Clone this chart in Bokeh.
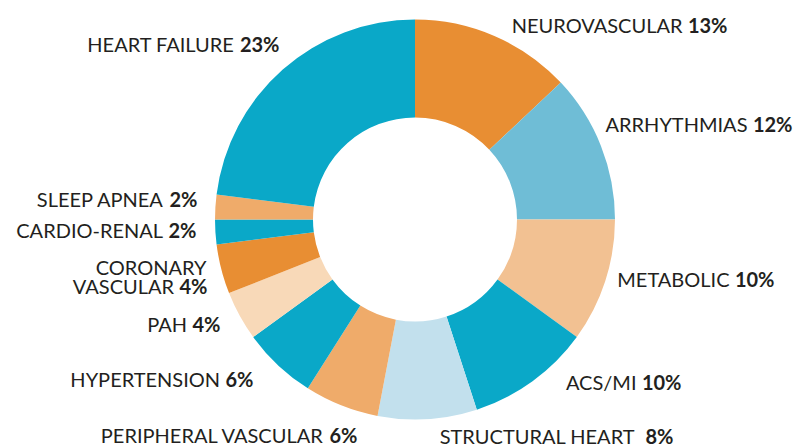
import math
from bokeh.plotting import figure
from bokeh.models import Range1d, ColumnDataSource
from bokeh.core.properties import value
from bokeh.embed import file_html
from bokeh.resources import INLINE

# ---- data (clockwise from 12 o'clock) ----
categories = ["NEUROVASCULAR", "ARRHYTHMIAS", "METABOLIC", "ACS/MI", "STRUCTURAL HEART",
              "PERIPHERAL VASCULAR", "HYPERTENSION", "PAH", "CORONARY\nVASCULAR",
              "CARDIO-RENAL", "SLEEP APNEA", "HEART FAILURE"]
shares = [13, 12, 10, 10, 8, 6, 6, 4, 4, 2, 2, 23]
pct_labels = ["13%", "12%", "10%", "10%", "8%", "6%", "6%", "4%", "4%", "2%", "2%", "23%"]

# ---- styles / layout ----
colors = ["#e88e33", "#6fbdd6", "#f2c192", "#0aa8c8", "#c2e0ed", "#efab6a",
          "#0aa8c8", "#f8d9b8", "#e88e33", "#0aa8c8", "#efab6a", "#0aa8c8"]
# label anchors in page pixels: (right edge of label, baseline of last line)
label_anchor = [(727, 32), (792, 131), (774, 286), (681, 389),
                (673, 443), (357, 442), (253, 386), (220, 331),
                (207, 293), (196, 237), (197, 206), (279, 51)]
label_gap = [5, 5, 5, 5, 10, 5, 5, 5, 5, 5, 5, 5]
W, H = 810, 448
CX, CY = 414.5, 219.0
R_OUT, R_IN = 200, 102
FONT = "Lato"
FSPX = 20
FS = "%dpx" % FSPX
TXT = "#231f20"
BASE_SHIFT = 8

def Y(yimg):
    return H - yimg

total = float(sum(shares))
starts, ends = [], []
cum = 0.0
for s in shares:
    c0 = cum / total
    cum += s
    c1 = cum / total
    starts.append(math.pi / 2 - 2 * math.pi * c1)
    ends.append(math.pi / 2 - 2 * math.pi * c0)

src = ColumnDataSource(dict(x=[CX] * len(shares), y=[Y(CY)] * len(shares),
                            start=starts, end=ends, color=colors))

p = figure(width=W, height=H, output_backend="svg", toolbar_location=None,
           x_range=Range1d(0, W), y_range=Range1d(0, H),
           min_border=0, outline_line_color=None)
p.axis.visible = False
p.grid.visible = False
p.background_fill_color = "white"
p.border_fill_color = "white"

p.annular_wedge(x="x", y="y", inner_radius=R_IN, outer_radius=R_OUT,
                start_angle="start", end_angle="end", fill_color="color",
                line_color=None, source=src)

def pct_width(t):
    # approximate Lato Bold advance widths (em): digits 0.58, percent 0.84
    return sum(0.84 if ch == "%" else 0.58 for ch in t) * FSPX

name_x, name_y, name_t = [], [], []
pct_x, pct_y, pct_t = [], [], []
for cat, pct, (r, b), gap in zip(categories, pct_labels, label_anchor, label_gap):
    lines = cat.split("\n")
    b = b - BASE_SHIFT
    if len(lines) > 1:
        name_x.append(r - 1)
        name_y.append(Y(b - 19))
        name_t.append(lines[0])
    name_x.append(r - pct_width(pct) - gap)
    name_y.append(Y(b))
    name_t.append(lines[-1])
    pct_x.append(r)
    pct_y.append(Y(b))
    pct_t.append(pct)

p.text(x=name_x, y=name_y, text=name_t, text_font=value(FONT), text_font_size=FS,
       text_color=TXT, text_align="right", text_baseline="alphabetic")
p.text(x=pct_x, y=pct_y, text=pct_t, text_font=value(FONT), text_font_size=FS,
       text_font_style="bold", text_color=TXT, text_align="right",
       text_baseline="alphabetic")

open("out.html", "w").write(file_html(p, INLINE))
